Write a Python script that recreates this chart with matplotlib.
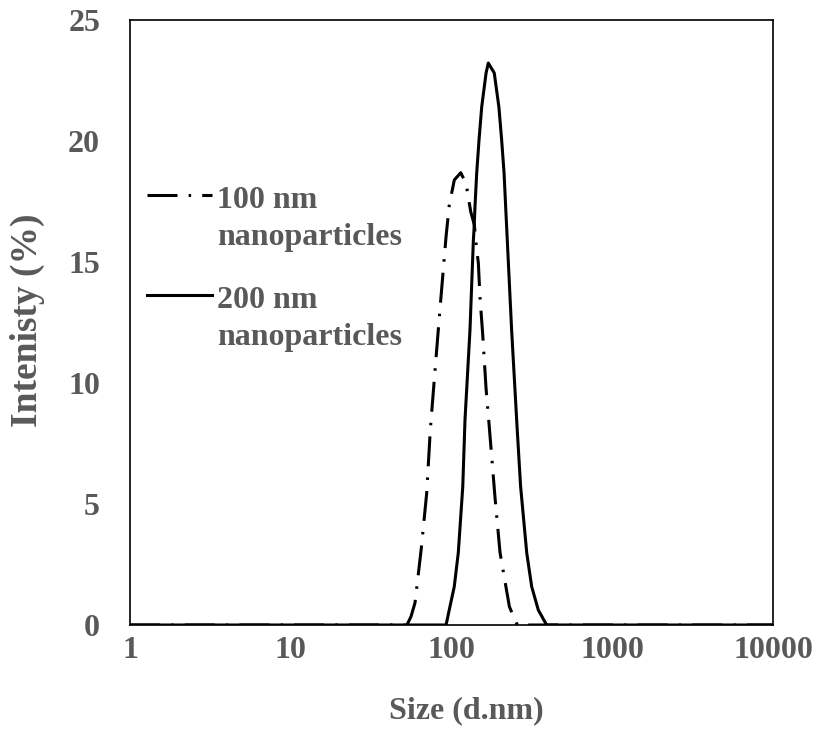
import matplotlib
matplotlib.use("Agg")
import matplotlib.pyplot as plt
from matplotlib.lines import Line2D

# ---- data ----
size_100 = [1, 52.8, 56.0, 59.3, 64.9, 70.1, 73.8, 79.3, 84.7, 92.5, 96.9, 104.1, 114.1,
            123.1, 131.7, 138.7, 143.5, 146.9, 150.3, 156.3, 164.1, 171.8, 186.6, 200.4,
            229.1, 248.3, 257, 10000]
int_100 = [0, 0, 0.35, 0.92, 3.18, 5.45, 8.06, 10.67, 13.02, 16.05, 17.36, 18.39, 18.69,
           18.25, 17.08, 16.53, 15.5, 14.96, 13.57, 12.02, 9.76, 8.19, 5.25, 2.99,
           0.76, 0.21, 0, 0]

size_200 = [1, 92.5, 96.8, 104.0, 110.2, 117.5, 121.3, 130.3, 136.8, 138.0, 140.0, 143.5,
            148.3, 154.2, 164.1, 169.4, 184.5, 197.2, 205.1, 212.3, 217.3, 222.3, 236.6,
            256.4, 269.2, 293.8, 315.5, 346.7, 390.8, 10000]
int_200 = [0, 0, 0.62, 1.58, 2.98, 5.71, 8.47, 12.19, 15.91, 16.32, 17.29, 18.68,
           20.04, 21.42, 22.81, 23.22, 22.81, 21.40, 20.04, 18.68, 17.27, 15.91, 12.19,
           8.06, 5.71, 2.98, 1.58, 0.62, 0, 0]

labels = ["100 nm\nnanoparticles", "200 nm\nnanoparticles"]
x_ticks = [1, 10, 100, 1000, 10000]
x_ticklabels = ["1", "10", "100", "1000", "10000"]
y_ticks = [0, 5, 10, 15, 20, 25]

plt.rcParams['lines.scale_dashes'] = False
plt.rcParams['font.family'] = ['Liberation Serif', 'DejaVu Serif']
plt.rcParams['font.weight'] = 'bold'

GRAY = '#595959'
FS = 23
DASH = (0, (21.6, 8.0, 1.8, 8.0))

fig = plt.figure(figsize=(8.21, 7.34), dpi=100)
ax = fig.add_axes([130/821, 109/734, 643/821, 605/734])

ax.plot(size_100, int_100, color='black', lw=2.2, linestyle=DASH, dash_capstyle='butt')
ax.plot(size_200, int_200, color='black', lw=2.2, linestyle='-')

ax.set_xscale('log')
ax.set_xlim(1, 10000)
ax.set_ylim(0, 25)
ax.set_xticks(x_ticks)
ax.set_xticklabels(x_ticklabels)
ax.xaxis.set_minor_locator(matplotlib.ticker.NullLocator())
ax.set_yticks(y_ticks)
ax.tick_params(axis='both', length=0, labelsize=FS, labelcolor=GRAY)
ax.tick_params(axis='x', pad=8)
ax.tick_params(axis='y', pad=21.6)
for lab in ax.get_xticklabels() + ax.get_yticklabels():
    lab.set_fontweight('bold')

for sp in ax.spines.values():
    sp.set_color('black')
    sp.set_linewidth(1.2)

ax.set_xlabel("Size (d.nm)", fontsize=FS, color=GRAY, fontweight='bold')
ax.xaxis.set_label_coords((466 - 130) / 643, (625 - 711) / 605)
ax.xaxis.label.set_verticalalignment('center')
ax.set_ylabel("Intenisty (%)", fontsize=27, color=GRAY, fontweight='bold')
ax.yaxis.set_label_coords((27 - 130) / 643, (625 - 320) / 605)
ax.yaxis.label.set_verticalalignment('center')

# manual legend (handles aligned with first text line)
styles = [DASH, '-']
hy = [195, 295]
for st, y, lab in zip(styles, hy, labels):
    yy = (625 - y) / 605
    ln = Line2D([(147 - 130) / 643, (212 - 130) / 643], [yy, yy], transform=ax.transAxes,
                color='black', lw=2.2, linestyle=st, dash_capstyle='butt')
    ax.add_line(ln)
    first, second = lab.split("\n")
    ax.text((217 - 130) / 643, (625 - (y + 13)) / 605, first,
            transform=ax.transAxes, fontsize=FS, color=GRAY, fontweight='bold',
            va='baseline', ha='left')
    ax.text((217 - 130) / 643, (625 - (y + 50)) / 605, second,
            transform=ax.transAxes, fontsize=FS, color=GRAY, fontweight='bold',
            va='baseline', ha='left')

fig.savefig("out.png", dpi=100)
